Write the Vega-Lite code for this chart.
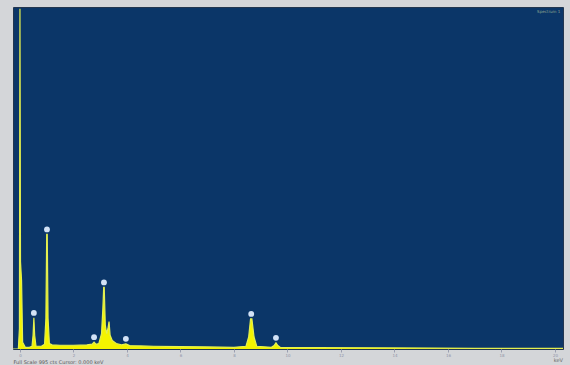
{
  "$schema": "https://vega.github.io/schema/vega-lite/v6.json",
  "width": 570,
  "height": 365,
  "autosize": {"type": "fit", "contains": "padding"},
  "padding": {"left": 13, "top": 7, "right": 7, "bottom": 1},
  "background": "#d4d6d9",
  "title": {"text": "keV", "orient": "bottom", "anchor": "end", "fontSize": 5, "fontWeight": "normal", "color": "#666666", "offset": -6, "font": "DejaVu Sans"},
  "config": {
    "view": {"fill": "#0b3668", "stroke": "#22364f", "strokeWidth": 1},
    "font": "DejaVu Sans"
  },
  "datasets": {
    "spectrum": [
      {"keV": -0.26, "counts": 0},
      {"keV": -0.06, "counts": 0},
      {"keV": -0.02, "counts": 60},
      {"keV": 0.0, "counts": 995},
      {"keV": 0.02, "counts": 256},
      {"keV": 0.06, "counts": 200},
      {"keV": 0.1, "counts": 20},
      {"keV": 0.2, "counts": 5},
      {"keV": 0.35, "counts": 5},
      {"keV": 0.45, "counts": 8},
      {"keV": 0.49, "counts": 40},
      {"keV": 0.52, "counts": 91},
      {"keV": 0.55, "counts": 40},
      {"keV": 0.6, "counts": 8},
      {"keV": 0.8, "counts": 8},
      {"keV": 0.92, "counts": 14},
      {"keV": 0.97, "counts": 90},
      {"keV": 1.0, "counts": 335},
      {"keV": 1.02, "counts": 335},
      {"keV": 1.05, "counts": 90},
      {"keV": 1.1, "counts": 16},
      {"keV": 1.2, "counts": 12},
      {"keV": 1.5, "counts": 11},
      {"keV": 2.0, "counts": 11},
      {"keV": 2.5, "counts": 12},
      {"keV": 2.7, "counts": 14},
      {"keV": 2.77, "counts": 20},
      {"keV": 2.84, "counts": 14},
      {"keV": 2.95, "counts": 16},
      {"keV": 3.05, "counts": 45},
      {"keV": 3.1, "counts": 120},
      {"keV": 3.13, "counts": 180},
      {"keV": 3.15, "counts": 180},
      {"keV": 3.19, "counts": 70},
      {"keV": 3.24, "counts": 45},
      {"keV": 3.29, "counts": 60},
      {"keV": 3.33, "counts": 80},
      {"keV": 3.37, "counts": 40},
      {"keV": 3.45, "counts": 25},
      {"keV": 3.6, "counts": 16},
      {"keV": 3.8, "counts": 12},
      {"keV": 3.96, "counts": 15},
      {"keV": 4.1, "counts": 10},
      {"keV": 4.5, "counts": 9},
      {"keV": 5.0, "counts": 8},
      {"keV": 6.0, "counts": 7},
      {"keV": 7.0, "counts": 6},
      {"keV": 8.0, "counts": 5},
      {"keV": 8.45, "counts": 8},
      {"keV": 8.55, "counts": 35},
      {"keV": 8.62, "counts": 88},
      {"keV": 8.67, "counts": 88},
      {"keV": 8.75, "counts": 35},
      {"keV": 8.85, "counts": 8},
      {"keV": 9.4, "counts": 5},
      {"keV": 9.5, "counts": 10},
      {"keV": 9.57, "counts": 18},
      {"keV": 9.64, "counts": 10},
      {"keV": 9.75, "counts": 4},
      {"keV": 11.0, "counts": 4},
      {"keV": 14.0, "counts": 3},
      {"keV": 17.0, "counts": 2},
      {"keV": 20.3, "counts": 2}
    ],
    "peaks": [
      {"keV": 0.52, "counts": 91},
      {"keV": 1.01, "counts": 335},
      {"keV": 2.77, "counts": 20},
      {"keV": 3.14, "counts": 180},
      {"keV": 3.96, "counts": 15},
      {"keV": 8.645, "counts": 88},
      {"keV": 9.57, "counts": 18}
    ]
  },
  "layer": [
    {
      "data": {"name": "spectrum"},
      "mark": {"type": "area", "color": "#f4f400", "opacity": 1, "line": {"color": "#e4f050", "strokeWidth": 1.2}, "clip": true},
      "encoding": {
        "x": {
          "field": "keV", "type": "quantitative",
          "scale": {"domain": [-0.26, 20.3], "nice": false, "zero": false},
          "axis": {
            "values": [0,1,2,3,4,5,6,7,8,9,10,11,12,13,14,15,16,17,18,19,20],
            "format": "d", "labelOverlap": false,
            "labelFontSize": 4, "labelColor": "#8f93a8", "tickColor": "#9a9eb0", "tickSize": 3,
            "labelPadding": 1, "domain": false, "grid": false,
            "title": "Full Scale 995 cts Cursor: 0.000 keV", "titleFontSize": 5, "titleFontWeight": "normal",
            "titleColor": "#555555", "titleAnchor": "start", "titlePadding": 2
          }
        },
        "y": {
          "field": "counts", "type": "quantitative",
          "scale": {"domain": [0, 1000], "nice": false},
          "axis": null
        }
      }
    },
    {
      "data": {"name": "peaks"},
      "mark": {"type": "point", "filled": true, "color": "#d2e2f6", "size": 34, "opacity": 1, "yOffset": -5},
      "encoding": {
        "x": {"field": "keV", "type": "quantitative"},
        "y": {"field": "counts", "type": "quantitative"}
      }
    },
    {
      "data": {"values": [{"label": "Spectrum 1"}]},
      "mark": {"type": "text", "fontSize": 4, "color": "#8fa890", "align": "right", "baseline": "top"},
      "encoding": {
        "x": {"datum": 20.2, "type": "quantitative"},
        "y": {"datum": 992, "type": "quantitative"},
        "text": {"field": "label"}
      }
    }
  ]
}
